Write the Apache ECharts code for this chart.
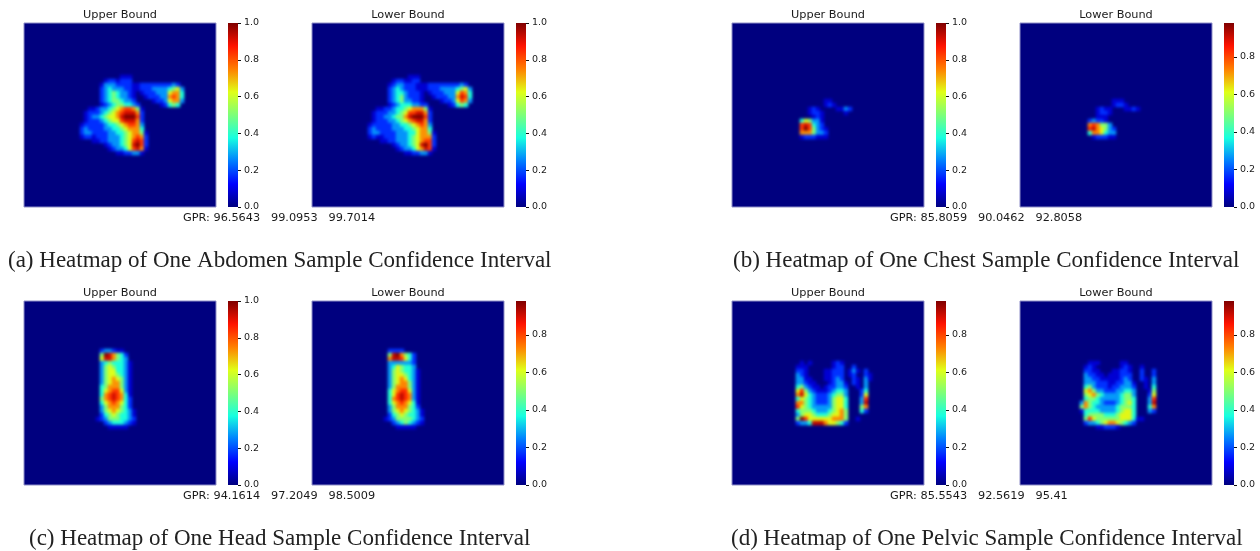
<!DOCTYPE html>
<html><head><meta charset="utf-8">
<style>html,body{margin:0;padding:0;background:#fff}#c{width:1260px;height:551px}</style>
<script src="https://cdn.jsdelivr.net/npm/echarts@6/dist/echarts.min.js"></script>
</head><body><div id="c"></div>
<script>
// Each string is a row of cells; '.' = 0, other characters index the levels list
const levels = [0,.08,.17,.27,.38,.5,.62,.73,.83,.92,1];
const abdomenUpper = ["","..........111","......1221222",".....13332222112222222232",".....234333221122233334563",".....234543321.12223336774",".....234543321..1222337874",".....234554332....12236773",".....1234554432.....12454","..11233456788751",".122234567899972",".1233456679AAA82",".122234566899972","1222223445678873","2322223344567774","23322223344567751","12212223334567872","...11223334568982","......12334569A82",".......1233468971",".........1122331"];
const abdomenLower = ["","..........111","......1221122",".....12332221112222222232",".....234322211122233334563",".....234432221.12223336874",".....234532221..1222337984",".....234533221....12236873",".....1234443322.....12454","..11223445677751",".122233456889972",".1223345579AAA82",".122233456789972","1222223344567873","2322223334456774","23322223334467751","12112223334567772","...11223334567882","......12334569A82",".......1233467981",".........1122331"];
const chestUpper = ["",".........11",".........121",".....121....1132",".....1221.....1","......121","...465331","...898432","...8A85321","...7775332","...1222111"];
const chestLower = ["","........111","........1221","....1211...1121","....1221","....111","..23221","..787553","..8976532","..4776433","...122211"];
const headUpper = ["","","","...233211","...5A97542","...6997543","...34544431","...35654431","...35664431","...35665431","...35676531","...35677531","...45777531","...46788631","...47898741","...57898742","...46787642","...35777542","...356765431","...245654431","..1235554432","....23444321",".....11111"];
const headLower = ["","","","...2222","...59A7542","...7998642","...3333332","...3465443","...35654431","...35665431","...35676431","...35677531","...35777531","...46788631","...46898731","...47898731","...46787641","...35777542","...356765431","...245654431","..1235555432","....23454321",".....11111"];
const pelvicUpper = ["","","","....1.1.....121","...111......122..2","...221....11222.131.2","...321....11222.12..21","...3311...11232..21.31","...33211...12331.21.3","...453211.122332..1.3","...6853211123443...24","...7964322234553...26","...4654322235664...38","...7754322235664...39","...8654333335664...57","...4555433345675...42","...3566544456675","...5A86666667775..1","...2334999766542"];
const pelvicLower = ["","","","....111.....11","...121......121..1","...2211...11221..2..2","...32211.111222..2..2","...332211111232..21.3","...3332221122331..1.3","...4532221223332..1.4","...6753322233443...15","...5675433334553...26","...4554333334554...38","..37544322234564...39","..57543333345554...47","..14444333345664...32","...4555544456664","...586555555666411","...2334567765432","......112221"];

const titleUpper = "Upper Bound", titleLower = "Lower Bound";
const gprLabels = ["GPR: 96.5643   99.0953   99.7014","GPR: 85.8059   90.0462   92.8058","GPR: 94.1614   97.2049   98.5009","GPR: 85.5543   92.5619   95.41"];
const captions = ["(a) Heatmap of One Abdomen Sample Confidence Interval","(b) Heatmap of One Chest Sample Confidence Interval","(c) Heatmap of One Head Sample Confidence Interval","(d) Heatmap of One Pelvic Sample Confidence Interval"];
const jet = ["#00007f","#0000ff","#007fff","#17ffe0","#7cff79","#e0ff17","#ff7f00","#ff1300","#7f0000"];

const COLS = 48, ROWS = 46;
const xCats = Array.from({length:COLS},(_,i)=>i), yCats = Array.from({length:ROWS},(_,i)=>i);
const panels = [
 {rows:abdomenUpper,x:24,y:23,col:14,row:12,max:1,title:titleUpper},
 {rows:abdomenLower,x:312,y:23,col:14,row:12,max:1,title:titleLower},
 {rows:chestUpper,x:732,y:23,col:14,row:18,max:1,title:titleUpper},
 {rows:chestLower,x:1020,y:23,col:15,row:18,max:0.98,title:titleLower},
 {rows:headUpper,x:24,y:301,col:16,row:9,max:1,title:titleUpper},
 {rows:headLower,x:312,y:301,col:16,row:9,max:0.98,title:titleLower},
 {rows:pelvicUpper,x:732,y:301,col:13,row:12,max:0.98,title:titleUpper},
 {rows:pelvicLower,x:1020,y:301,col:13,row:12,max:0.98,title:titleLower}
];
function cells(p){
  const out=[];
  p.rows.forEach((s,r)=>{for(let c=0;c<s.length;c++){const ch=s[c];if(ch==='.')continue;
    out.push([p.col+c,p.row+r,Math.min(p.max,levels[ch==='A'?10:+ch])]);}});
  return out;
}
const jetGradient={type:"linear",x:0,y:1,x2:0,y2:0,colorStops:jet.map((color,i)=>({offset:i/(jet.length-1),color}))};
const grid=[],xAxis=[],yAxis=[],series=[],visualMap=[],title=[];
const W=192,H=184,CB=10;
panels.forEach((p,i)=>{
  const g=grid.length;
  grid.push({left:p.x,top:p.y,width:W,height:H,show:true,backgroundColor:"#00007f",borderColor:"#8f8fc8",borderWidth:1});
  xAxis.push({type:"category",gridIndex:g,data:xCats,show:false});
  yAxis.push({type:"category",gridIndex:g,data:yCats,inverse:true,show:false});
  series.push({type:"heatmap",xAxisIndex:g,yAxisIndex:g,data:cells(p),silent:true,progressive:0,animation:false,zlevel:1,emphasis:{disabled:true}});
  const s=series.length-1;
  visualMap.push({type:"continuous",show:false,seriesIndex:s,min:0,max:p.max,dimension:2,inRange:{color:jet}});
  const t=[0,.2,.4,.6,.8]; if(p.max===1) t.push(1);
  grid.push({left:p.x+W+12,top:p.y,width:CB,height:H,show:true,backgroundColor:jetGradient,borderWidth:0});
  xAxis.push({type:"value",gridIndex:g+1,show:false,min:0,max:1});
  yAxis.push({type:"value",gridIndex:g+1,position:"right",min:0,max:p.max,interval:.2,splitLine:{show:false},
    axisLine:{show:true,onZero:false,lineStyle:{color:"transparent"}},
    axisTick:{show:true,length:3,inside:false,lineStyle:{color:"#111",width:1},customValues:t},
    axisLabel:{show:true,margin:6,fontSize:9.5,color:"#1a1a1a",fontFamily:"DejaVu Sans",customValues:t,formatter:v=>v.toFixed(1)}});
  title.push({text:p.title,left:p.x+W/2,top:p.y-15+2,textAlign:"center",padding:0,textStyle:{fontFamily:"DejaVu Sans",fontSize:11.3,fontWeight:"normal",color:"#1a1a1a"}});
});
const gx=[183,890,183,890], gy=[213,213,491,491], cx=[8,733,29,731], cy=[249,249,527,527];
captions.forEach((c,i)=>{
  title.push({text:gprLabels[i],left:gx[i],top:gy[i],padding:0,textStyle:{fontFamily:"DejaVu Sans",fontSize:11.3,fontWeight:"normal",color:"#1a1a1a"}});
  title.push({text:c,left:cx[i],top:cy[i],padding:0,textStyle:{fontFamily:"Liberation Serif",fontSize:23,fontWeight:"normal",color:"#222"}});
});
const chart=echarts.init(document.getElementById("c"),null,{renderer:"canvas"});
chart.setOption({animation:false,backgroundColor:"#fff",title,grid,xAxis,yAxis,series,visualMap});
// the heatmap cells live on their own canvas layer; soften it like the resampled source image
const canv=chart.getDom().querySelectorAll("canvas");
canv[canv.length-1].style.filter="blur(1.6px)";
</script></body></html>
